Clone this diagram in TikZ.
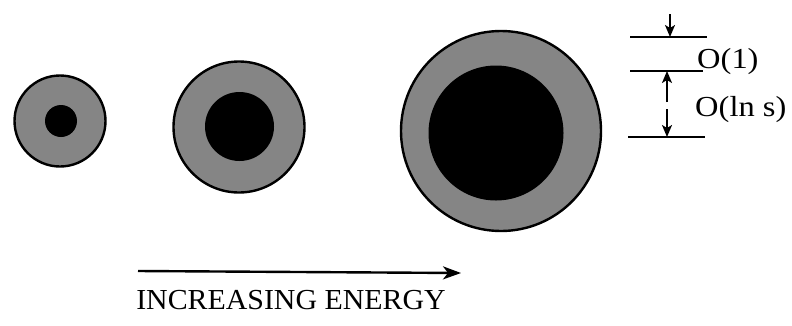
\documentclass[tikz,border=0pt]{standalone}
\usepackage{fontspec}
\setmainfont{Liberation Serif}
\usetikzlibrary{arrows.meta}

\begin{document}
\begin{tikzpicture}[
    x=1pt, y=-1pt,
    shellDisk/.style={circle, draw=black, line width=2.4pt, fill=black!48, inner sep=0pt},
    coreDisk/.style={circle, fill=black, inner sep=0pt},
    tickLine/.style={line width=1.7pt},
    dimArrow/.style={-{Stealth[length=12pt, width=10pt, inset=3pt]}, line width=1.7pt},
    energyArrow/.style={-{Stealth[length=18pt, width=13pt, inset=5pt]}, line width=2.4pt},
    bigLabel/.style={font=\fontsize{29}{31}\selectfont, inner sep=0pt}
]
    \useasboundingbox (0,0) rectangle (792,325);

    % three disks, growing with energy
    \node[shellDisk, minimum size=91pt] (shell1) at (60,121) {};
    \node[coreDisk, minimum size=32pt] (core1) at (61,121) {};

    \node[shellDisk, minimum size=131pt] (shell2) at (239,127) {};
    \node[coreDisk, minimum size=69pt] (core2) at (239.5,126.5) {};

    \node[shellDisk, minimum size=200pt] (shell3) at (501,131) {};
    \node[coreDisk, minimum size=135pt] (core3) at (496,133) {};

    % thickness scales on the right
    \coordinate (topL) at (630,37);
    \coordinate (topR) at (707,37);
    \coordinate (midL) at (630,71);
    \coordinate (midR) at (703,71);
    \coordinate (botL) at (628,137);
    \coordinate (botR) at (705,137);
    \draw[tickLine] (topL) -- (topR);
    \draw[tickLine] (midL) -- (midR);
    \draw[tickLine] (botL) -- (botR);

    \coordinate (inTop) at (670,14);
    \coordinate (upFrom) at (667,102);
    \coordinate (downFrom) at (667,109);
    \draw[dimArrow] (inTop) -- (topL -| inTop);
    \draw[dimArrow] (upFrom) -- (midL -| upFrom);
    \draw[dimArrow] (downFrom) -- (botL -| downFrom);

    \node[bigLabel, anchor=west, xscale=1.12] (oneLabel) at (697,62) {O(1)};
    \node[bigLabel, anchor=west, xscale=1.12] (lnLabel) at (695,110) {O(ln s)};

    % energy axis
    \coordinate (axisStart) at (138,271);
    \coordinate (axisEnd) at (461,273);
    \draw[energyArrow] (axisStart) -- (axisEnd);
    \node[bigLabel, xscale=1.03] (energyLabel) at (291,300) {INCREASING ENERGY};
\end{tikzpicture}
\end{document}
